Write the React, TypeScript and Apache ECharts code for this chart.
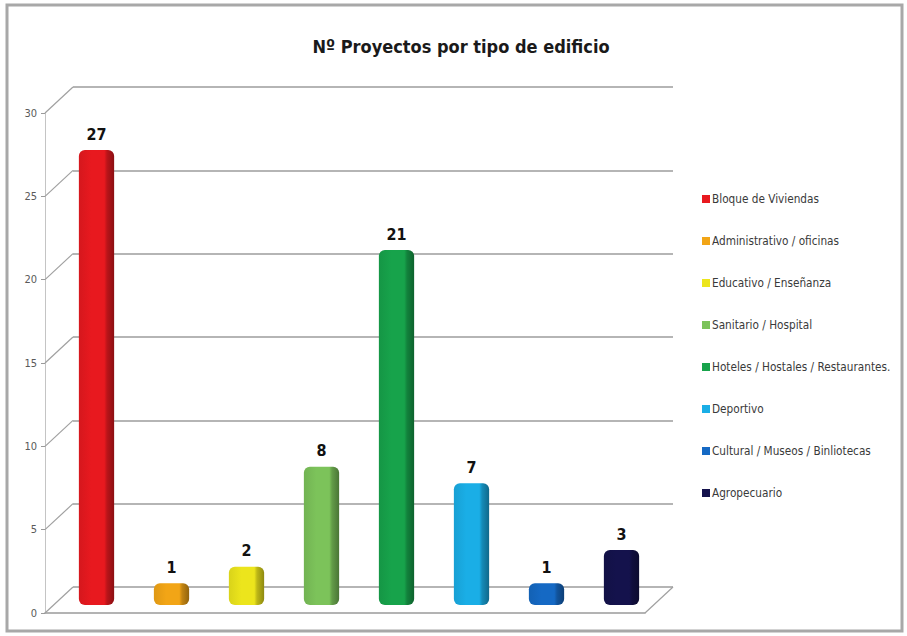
import React, { useEffect, useRef } from "react";
import * as echarts from "echarts";

const categories = [
  "Bloque de Viviendas",
  "Administrativo / oficinas",
  "Educativo / Enseñanza",
  "Sanitario / Hospital",
  "Hoteles / Hostales / Restaurantes.",
  "Deportivo",
  "Cultural / Museos / Binliotecas",
  "Agropecuario",
];
const values = [27, 1, 2, 8, 21, 7, 1, 3];
const colors = ["#e8191f", "#f2a516", "#ece51c", "#7cc35a", "#17a34b", "#1aaee6", "#1569c4", "#14124c"];
const yTicks = [0, 5, 10, 15, 20, 25, 30];
const title = "Nº Proyectos por tipo de edificio";

const DX = 28;
const DY = -26;
const FONT = "'DejaVu Sans Condensed', 'Roboto', sans-serif";

function shade(hex: string, f: number): string {
  const n = parseInt(hex.slice(1), 16);
  const r = Math.min(255, Math.round(((n >> 16) & 255) * f));
  const g = Math.min(255, Math.round(((n >> 8) & 255) * f));
  const b = Math.min(255, Math.round((n & 255) * f));
  return "rgb(" + r + "," + g + "," + b + ")";
}

export default function App() {
  const ref = useRef<HTMLDivElement>(null);
  useEffect(() => {
    if (!ref.current) return;
    const chart = echarts.init(ref.current, undefined, { renderer: "svg" });

    const barSeries = categories.map((name, i) => ({
      type: "custom",
      name,
      xAxisIndex: 0,
      yAxisIndex: 0,
      itemStyle: { color: colors[i] },
      data: [[i, values[i]]],
      encode: { x: 0, y: 1 },
      z: 5,
      renderItem: (params: any, api: any) => {
        const idx = api.value(0);
        const v = api.value(1);
        const top = api.coord([idx, v]);
        const base = api.coord([idx, 0]);
        const w = api.size([1, 0])[0] * 0.47;
        const x = top[0] - w / 2 + DX / 2;
        const yTop = top[1] + DY / 2;
        const yBot = base[1] + DY / 2 + 5;
        const c = colors[i];
        return {
          type: "group",
          children: [
            {
              type: "rect",
              shape: { x, y: yTop, width: w, height: yBot - yTop, r: 6 },
              style: {
                fill: new echarts.graphic.LinearGradient(0, 0, 1, 0, [
                  { offset: 0, color: shade(c, 0.92) },
                  { offset: 0.35, color: c },
                  { offset: 0.72, color: c },
                  { offset: 0.8, color: shade(c, 0.8) },
                  { offset: 1, color: shade(c, 0.6) },
                ]),
              },
            },
            {
              type: "text",
              style: {
                text: String(v),
                x: x + w / 2,
                y: yTop - 8,
                align: "center",
                verticalAlign: "bottom",
                font: "bold 16px " + FONT,
                fill: "#111",
              },
            },
          ],
        };
      },
    }));

    const option: any = {
      animation: false,
      backgroundColor: "#ffffff",
      color: colors,
      title: {
        text: title,
        left: 456,
        textAlign: "center",
        top: 32,
        textStyle: {
          fontFamily: FONT,
          fontSize: 18,
          fontWeight: "bold",
          color: "#1a1a1a",
        },
      },
      legend: {
        data: categories,
        orient: "vertical",
        left: 697,
        top: 188,
        itemWidth: 8,
        itemHeight: 8,
        itemGap: 30,
        icon: "rect",
        textStyle: {
          fontFamily: FONT,
          fontSize: 11.7,
          lineHeight: 12,
          color: "#3a3a3a",
          padding: [0, 0, 0, -3],
        },
      },
      graphic: [
        {
          type: "rect",
          shape: { x: 7, y: 5, width: 895, height: 626 },
          style: { fill: "none", stroke: "#a8a8a8", lineWidth: 3 },
          z: -1,
        },
      ],
      grid: [
        { left: 45, right: 262, top: 113, bottom: 23 },
        { left: 45 + DX, right: 262 - DX, top: 113 + DY, bottom: 23 - DY },
      ],
      xAxis: [
        {
          type: "category",
          gridIndex: 0,
          data: categories,
          axisLine: { show: true, lineStyle: { color: "#9a9a9a", width: 1.5 } },
          axisTick: { show: false },
          axisLabel: { show: false },
        },
        {
          type: "category",
          gridIndex: 1,
          data: categories,
          axisLine: { show: false },
          axisTick: { show: false },
          axisLabel: { show: false },
        },
      ],
      yAxis: [
        {
          type: "value",
          gridIndex: 0,
          min: 0,
          max: 30,
          interval: 5,
          axisLine: { show: true, lineStyle: { color: "#c4c4c4", width: 1 } },
          axisTick: { show: true, length: 4, lineStyle: { color: "#9a9a9a" } },
          axisLabel: {
            margin: 8,
            fontSize: 11,
            color: "#5a5a5a",
            fontFamily: FONT,
          },
          splitLine: { show: false },
        },
        {
          type: "value",
          gridIndex: 1,
          min: 0,
          max: 30,
          interval: 5,
          axisLine: { show: false },
          axisTick: { show: false },
          axisLabel: { show: false },
          splitLine: { show: true, lineStyle: { color: "#9c9c9c", width: 1.5 } },
        },
      ],
      series: [
        {
          type: "custom",
          xAxisIndex: 0,
          yAxisIndex: 0,
          silent: true,
          z: 1,
          data: yTicks.map((t) => [0, t]),
          encode: { x: 0, y: 1 },
          renderItem: (params: any, api: any) => {
            const p = api.coord([0, api.value(1)]);
            const x0 = params.coordSys.x;
            return {
              type: "line",
              shape: { x1: x0, y1: p[1], x2: x0 + DX, y2: p[1] + DY },
              style: { stroke: "#a0a0a0", lineWidth: 1.2 },
            };
          },
        },
        {
          type: "custom",
          xAxisIndex: 0,
          yAxisIndex: 0,
          silent: true,
          z: 1,
          data: [[categories.length - 1, 0]],
          encode: { x: 0, y: 1 },
          renderItem: (params: any, api: any) => {
            const p = api.coord([0, api.value(1)]);
            const x1 = params.coordSys.x + params.coordSys.width;
            return {
              type: "line",
              shape: { x1: x1, y1: p[1], x2: x1 + DX, y2: p[1] + DY },
              style: { stroke: "#a0a0a0", lineWidth: 1.2 },
            };
          },
        },
        ...barSeries,
      ],
    };
    chart.setOption(option);
    return () => chart.dispose();
  }, []);

  return (
    <div
      ref={ref}
      style={{ position: "absolute", left: 0, top: 0, width: 907, height: 636, background: "#fff" }}
    />
  );
}
